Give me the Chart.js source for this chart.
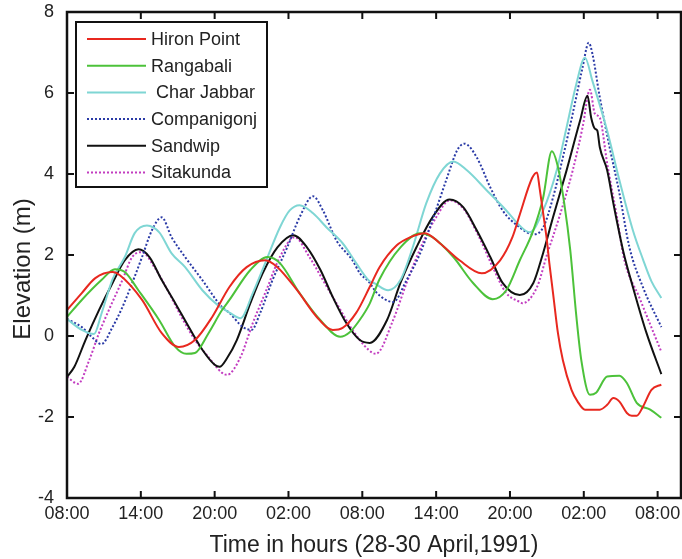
<!DOCTYPE html>
<html>
<head>
<meta charset="utf-8">
<script src="https://cdn.jsdelivr.net/npm/chart.js@4.4.0/dist/chart.umd.min.js"></script>
<style>
  html, body { margin: 0; padding: 0; background: #fff; }
  #wrap { width: 682px; height: 559px; position: relative; }
</style>
</head>
<body>
<div id="wrap"><canvas id="surge"></canvas></div>
<script>
// Water level at six stations, [hours after 08:00 on 28 April, elevation m]
const hironPoint = [
  [0, 0.64], [1.2, 1.06], [2.3, 1.43], [3.7, 1.58], [4.3, 1.5], [6.1, 0.89], [7.7, 0.07],
  [9.1, -0.27], [10.4, -0.1], [11.8, 0.47], [13.2, 1.21], [14.6, 1.7], [16.1, 1.87], [17.1, 1.7],
  [18.7, 1.13], [20.3, 0.47], [21.6, 0.15], [22.4, 0.2], [23.5, 0.57], [24.6, 1.21], [25.4, 1.7],
  [26.8, 2.24], [27.9, 2.44], [29.1, 2.54], [30.3, 2.29], [31.9, 1.87], [33.7, 1.55], [35.2, 1.87],
  [36.2, 2.44], [36.8, 3.0], [37.8, 3.9], [38.2, 4.04], [38.4, 3.67], [38.7, 3.03], [39.0, 2.36],
  [39.2, 1.8], [39.5, 1.06], [39.9, 0.07], [40.3, -0.6], [41.0, -1.33], [41.5, -1.62], [42.1, -1.82],
  [43.3, -1.82], [43.9, -1.7], [44.4, -1.53], [44.9, -1.62], [45.5, -1.9], [45.9, -1.97], [46.3, -1.97],
  [46.8, -1.75], [47.5, -1.33], [48.3, -1.2]
];
const rangabali = [
  [0, 0.47], [1.2, 0.89], [2.8, 1.38], [3.9, 1.65], [4.7, 1.58], [5.8, 1.13], [7.5, 0.39],
  [8.8, -0.27], [9.7, -0.44], [10.4, -0.42], [11.5, 0.07], [12.6, 0.64], [13.2, 0.89], [14.9, 1.63],
  [16.3, 1.95], [17.3, 1.8], [18.9, 1.06], [20.6, 0.39], [22.2, -0.02], [23.0, 0.1], [23.8, 0.4],
  [24.6, 0.8], [25.4, 1.4], [27.1, 2.19], [28.7, 2.54], [29.7, 2.44], [31.4, 1.95], [33.0, 1.31],
  [34.6, 0.91], [35.7, 1.13], [36.8, 1.87], [37.9, 2.61], [38.7, 3.42], [39.4, 4.56], [39.9, 4.17],
  [40.4, 3.3], [40.9, 2.12], [41.4, 0.47], [41.8, -0.6], [42.5, -1.45], [43.0, -1.4], [43.9, -1.0],
  [44.9, -0.98], [45.5, -1.16], [46.3, -1.65], [47.4, -1.82], [48.3, -2.02]
];
const charJabbar = [
  [0, 0.42], [1.2, 0.15], [2.2, 0.05], [2.8, 0.55], [3.7, 1.4], [4.7, 1.95], [5.5, 2.54],
  [6.5, 2.73], [7.5, 2.56], [8.5, 2.04], [9.6, 1.7], [11.0, 1.13], [12.3, 0.75], [13.2, 0.58],
  [14.1, 0.44], [15.1, 1.06], [16.2, 1.87], [17.3, 2.68], [18.1, 3.1], [18.9, 3.23], [20.0, 3.03],
  [21.1, 2.68], [22.4, 2.29], [23.5, 1.8], [24.5, 1.38], [25.0, 1.3], [26.1, 1.13], [27.1, 1.38],
  [28.1, 2.19], [29.2, 3.28], [30.3, 4.01], [31.4, 4.31], [32.5, 4.09], [34.1, 3.6], [35.7, 3.1],
  [36.8, 2.72], [37.6, 2.56], [38.7, 3.1], [39.8, 4.09], [40.6, 5.15], [41.4, 6.23], [42.1, 6.87],
  [42.7, 6.3], [43.9, 5.07], [44.9, 3.84], [46.0, 2.6], [46.8, 1.9], [47.5, 1.35], [48.3, 0.94]
];
const companigonj = [
  [0, 0.42], [1.2, 0.22], [2.0, -0.02], [2.8, -0.2], [3.7, 0.22], [4.5, 0.71], [5.3, 1.31],
  [6.1, 1.95], [6.9, 2.61], [7.7, 2.93], [8.5, 2.44], [9.6, 1.95], [11.0, 1.38], [12.6, 0.71],
  [13.2, 0.57], [14.3, 0.22], [15.0, 0.15], [15.7, 0.57], [16.7, 1.38], [17.9, 2.19], [18.9, 2.93],
  [20.0, 3.45], [20.8, 3.1], [21.9, 2.36], [23.2, 1.87], [23.8, 1.55], [24.5, 1.35], [25.2, 1.06],
  [26.5, 0.84], [27.6, 1.38], [28.7, 2.04], [29.7, 2.86], [30.9, 3.92], [31.7, 4.58], [32.3, 4.75],
  [33.3, 4.41], [34.4, 3.67], [35.4, 3.1], [36.8, 2.68], [37.9, 2.51], [38.7, 2.68], [39.5, 3.42],
  [40.3, 4.41], [41.1, 5.49], [41.9, 6.63], [42.4, 7.24], [42.7, 6.97], [43.3, 5.89], [44.1, 4.66],
  [44.9, 3.52], [45.7, 2.2], [46.8, 1.21], [48.3, 0.22]
];
const sandwip = [
  [0, -1.01], [0.6, -0.76], [1.5, -0.1], [2.6, 0.64], [3.7, 1.31], [4.7, 1.87], [5.8, 2.14],
  [6.7, 1.95], [7.7, 1.38], [8.8, 0.81], [9.9, 0.22], [11.0, -0.34], [12.0, -0.71], [12.4, -0.76],
  [13.0, -0.55], [13.8, -0.1], [14.9, 0.81], [15.9, 1.55], [17.1, 2.19], [18.4, 2.49], [19.5, 2.19],
  [20.6, 1.63], [21.6, 0.96], [22.7, 0.32], [23.8, -0.1], [24.6, -0.17], [26.0, 0.39], [27.1, 1.31],
  [28.4, 2.19], [29.7, 2.93], [31.1, 3.37], [32.2, 3.18], [33.3, 2.61], [34.4, 1.95], [35.4, 1.31],
  [36.8, 1.01], [37.9, 1.31], [38.6, 1.95], [39.5, 2.93], [40.6, 4.09], [41.7, 5.32], [42.3, 5.93],
  [42.6, 5.39], [42.9, 5.12], [43.1, 5.07], [43.3, 4.66], [43.9, 4.09], [44.4, 3.28], [45.2, 2.1],
  [46.0, 1.2], [47.1, 0.07], [48.3, -0.94]
];
const sitakunda = [
  [0, -1.01], [0.9, -1.18], [1.8, -0.6], [2.6, 0.07], [3.4, 0.64], [4.5, 1.38], [5.3, 1.95],
  [6.1, 2.07], [7.1, 1.7], [8.3, 1.06], [9.3, 0.47], [10.4, -0.1], [11.5, -0.52], [12.6, -0.91],
  [13.0, -0.96], [14.1, -0.52], [15.1, 0.32], [16.2, 1.13], [17.3, 1.95], [18.5, 2.44], [19.7, 1.95],
  [20.8, 1.38], [21.9, 0.81], [23.2, 0.15], [24.5, -0.34], [25.1, -0.44], [26.5, 0.39], [27.6, 1.31],
  [28.9, 2.29], [30.0, 2.93], [31.1, 3.35], [32.2, 3.15], [33.5, 2.44], [34.6, 1.7], [35.7, 1.06],
  [36.8, 0.84], [37.0, 0.81], [38.2, 1.21], [39.0, 2.0], [40.0, 2.93], [41.1, 4.09], [41.9, 5.15],
  [42.5, 6.08], [42.9, 5.49], [43.3, 5.39], [43.9, 4.26], [44.7, 2.93], [45.3, 1.87], [46.5, 0.96],
  [48.3, -0.39]
];

// Axis tick labels
const timeLabels = ['08:00', '14:00', '20:00', '02:00', '08:00', '14:00', '20:00', '02:00', '08:00'];
const elevationTicks = [-4, -2, 0, 2, 4, 6, 8];
const yTitle = 'Elevation (m)';

const FONT = "'Liberation Sans', Arial, Helvetica, sans-serif";
Chart.defaults.font.family = FONT;
Chart.defaults.color = '#222';

function series(label, points, color, dashed) {
    return {
        label: label,
        data: points.map(p => ({ x: p[0], y: p[1] })),
        borderColor: color,
        borderWidth: 2,
        borderDash: dashed ? [2, 2] : [],
        pointRadius: 0,
        cubicInterpolationMode: 'monotone',
        fill: false
    };
}

// Box frame with inward ticks on all four sides, plus the y title
const frame = {
    id: 'frame',
    afterDraw(chart) {
        const { ctx, chartArea: a, scales } = chart;
        ctx.save();
        ctx.strokeStyle = '#111';
        ctx.lineWidth = 2.5;
        ctx.strokeRect(a.left, a.top, a.right - a.left, a.bottom - a.top);
        ctx.lineWidth = 2;
        ctx.beginPath();
        scales.x.ticks.forEach(t => {
            const px = scales.x.getPixelForValue(t.value);
            ctx.moveTo(px, a.bottom); ctx.lineTo(px, a.bottom - 7);
            ctx.moveTo(px, a.top); ctx.lineTo(px, a.top + 7);
        });
        scales.y.ticks.forEach(t => {
            const py = scales.y.getPixelForValue(t.value);
            ctx.moveTo(a.left, py); ctx.lineTo(a.left + 7, py);
            ctx.moveTo(a.right, py); ctx.lineTo(a.right - 7, py);
        });
        ctx.stroke();

        ctx.translate(23, 269);
        ctx.rotate(-Math.PI / 2);
        ctx.fillStyle = '#222';
        ctx.font = '24px ' + FONT;
        ctx.textAlign = 'center';
        ctx.textBaseline = 'middle';
        ctx.fillText(yTitle, 0, 0);
        ctx.restore();
    }
};

// Legend drawn inside the plot, top left
const boxLegend = {
    id: 'boxLegend',
    afterDraw(chart) {
        const ctx = chart.ctx;
        ctx.save();
        ctx.fillStyle = '#fff';
        ctx.fillRect(76, 22, 191, 165);
        ctx.strokeStyle = '#111';
        ctx.lineWidth = 2;
        ctx.strokeRect(76, 22, 191, 165);
        ctx.font = '18px ' + FONT;
        ctx.textBaseline = 'middle';
        chart.data.datasets.forEach((ds, i) => {
            const y = 39 + i * 26.7;
            ctx.strokeStyle = ds.borderColor;
            ctx.lineWidth = 2;
            ctx.setLineDash(ds.borderDash);
            ctx.beginPath();
            ctx.moveTo(87, y);
            ctx.lineTo(146, y);
            ctx.stroke();
            ctx.setLineDash([]);
            ctx.fillStyle = '#222';
            ctx.fillText(ds.label, 151, y + 1);
        });
        ctx.restore();
    }
};

new Chart(document.getElementById('surge'), {
    type: 'line',
    data: {
        datasets: [
            series('Hiron Point', hironPoint, '#e8281f', false),
            series('Rangabali', rangabali, '#4cc23a', false),
            series(' Char Jabbar', charJabbar, '#7fd6d4', false),
            series('Companigonj', companigonj, '#2a3aa6', true),
            series('Sandwip', sandwip, '#111111', false),
            series('Sitakunda', sitakunda, '#c23cc0', true)
        ]
    },
    options: {
        responsive: true,
        maintainAspectRatio: false,
        animation: false,
        devicePixelRatio: 1,
        layout: { padding: { top: 12, right: 1, left: 0, bottom: 0 } },
        plugins: {
            legend: { display: false },
            tooltip: { enabled: false }
        },
        scales: {
            x: {
                type: 'linear',
                min: 0,
                max: 49.9,
                grid: { display: false, drawTicks: false },
                border: { display: false },
                ticks: {
                    stepSize: 6,
                    includeBounds: false,
                    autoSkip: false,
                    maxRotation: 0,
                    padding: 5,
                    font: { size: 18 },
                    callback: v => timeLabels[v / 6] ?? ''
                },
                title: {
                    display: true,
                    text: 'Time in hours (28-30 April,1991)',
                    font: { size: 23 },
                    padding: { top: 4, bottom: 0 }
                },
                afterFit: s => { s.height = 61; s.paddingLeft = 0; s.paddingRight = 0; }
            },
            y: {
                min: elevationTicks[0],
                max: elevationTicks[elevationTicks.length - 1],
                grid: { display: false, drawTicks: false },
                border: { display: false },
                ticks: {
                    stepSize: 2,
                    padding: 13,
                    font: { size: 18 }
                },
                afterFit: s => { s.width = 67; s.paddingTop = 0; s.paddingBottom = 0; }
            }
        }
    },
    plugins: [frame, boxLegend]
});
</script>
</body>
</html>
